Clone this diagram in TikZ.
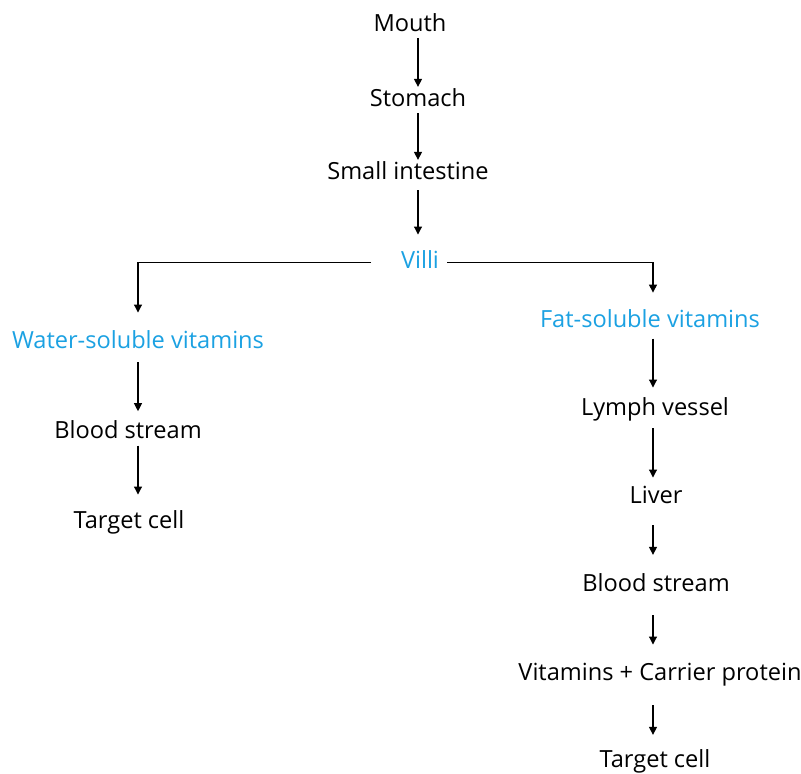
\documentclass[tikz,border=0pt]{standalone}
\usepackage{fontspec}
\setmainfont{Open Sans}
\definecolor{villi_c}{RGB}{27,161,226}
\usetikzlibrary{arrows.meta}

\begin{document}
\begin{tikzpicture}[
	x=0.75pt, y=-0.75pt,
	stage/.style = {inner sep=0pt, anchor=base, text height=12.7pt, text depth=4.4pt,
		font=\fontsize{17.7}{20}\selectfont},
	branch/.style = {stage, text=villi_c},
	line width=0.8pt,
	>={Triangle[length=6pt,width=6pt]},
	->,
	]
	\useasboundingbox (0,0) rectangle (801,774);
	% columns
	\coordinate (colT) at (418,0);
	\coordinate (colL) at (138,0);
	\coordinate (colR) at (653,0);
	% digestive tract
	\node[stage] (mouth) at (410,32) {Mouth};
	\node[stage] (stomach) at (418,107) {Stomach};
	\node[stage] (intestine) at (408,180) {Small intestine};
	\node[branch] (villi) at (420,268) {Villi};
	% water-soluble side
	\node[branch] (water) at (138,348) {Water-soluble vitamins};
	\node[stage] (bloodL) at (128,438) {Blood stream};
	\node[stage] (targetL) at (129,528) {Target cell};
	% fat-soluble side
	\node[branch] (fat) at (650,327) {Fat-soluble vitamins};
	\node[stage] (lymph) at (655,415) {Lymph vessel};
	\node[stage] (liver) at (656,503) {Liver};
	\node[stage] (bloodR) at (656,591) {Blood stream};
	\node[stage] (carrier) at (660,680) {Vitamins + Carrier protein};
	\node[stage] (targetR) at (655,767) {Target cell};
	% edges
	\path
	(mouth.south -| colT) edge[shorten >=2pt] (stomach.north -| colT)
	(stomach.south -| colT) edge[shorten >=2pt] (intestine.north -| colT)
	(intestine.south -| colT) edge[shorten <=3pt, shorten >=12pt] (villi.north -| colT)
	(water.south -| colL) edge[shorten <=6pt, shorten >=7pt] (bloodL.north -| colL)
	(bloodL.south -| colL) edge[shorten <=1pt, shorten >=12pt] (targetL.north -| colL)
	(fat.south -| colR) edge[shorten <=4pt, shorten >=7.5pt] (lymph.north -| colR)
	(lymph.south -| colR) edge[shorten <=5pt, shorten >=6pt] (liver.north -| colR)
	(liver.south -| colR) edge[shorten <=12pt, shorten >=14pt] (bloodR.north -| colR)
	(bloodR.south -| colR) edge[shorten <=13.5pt, shorten >=13.5pt] (carrier.north -| colR)
	(carrier.south -| colR) edge[shorten <=14pt, shorten >=11pt] (targetR.north -| colR)
	;
	\draw[shorten <=22pt, shorten >=13.5pt] (villi.west) -| (water.north);
	\draw[shorten <=6pt, shorten >=12.7pt] (villi.east) -| (colR |- fat.north);
\end{tikzpicture}
\end{document}
